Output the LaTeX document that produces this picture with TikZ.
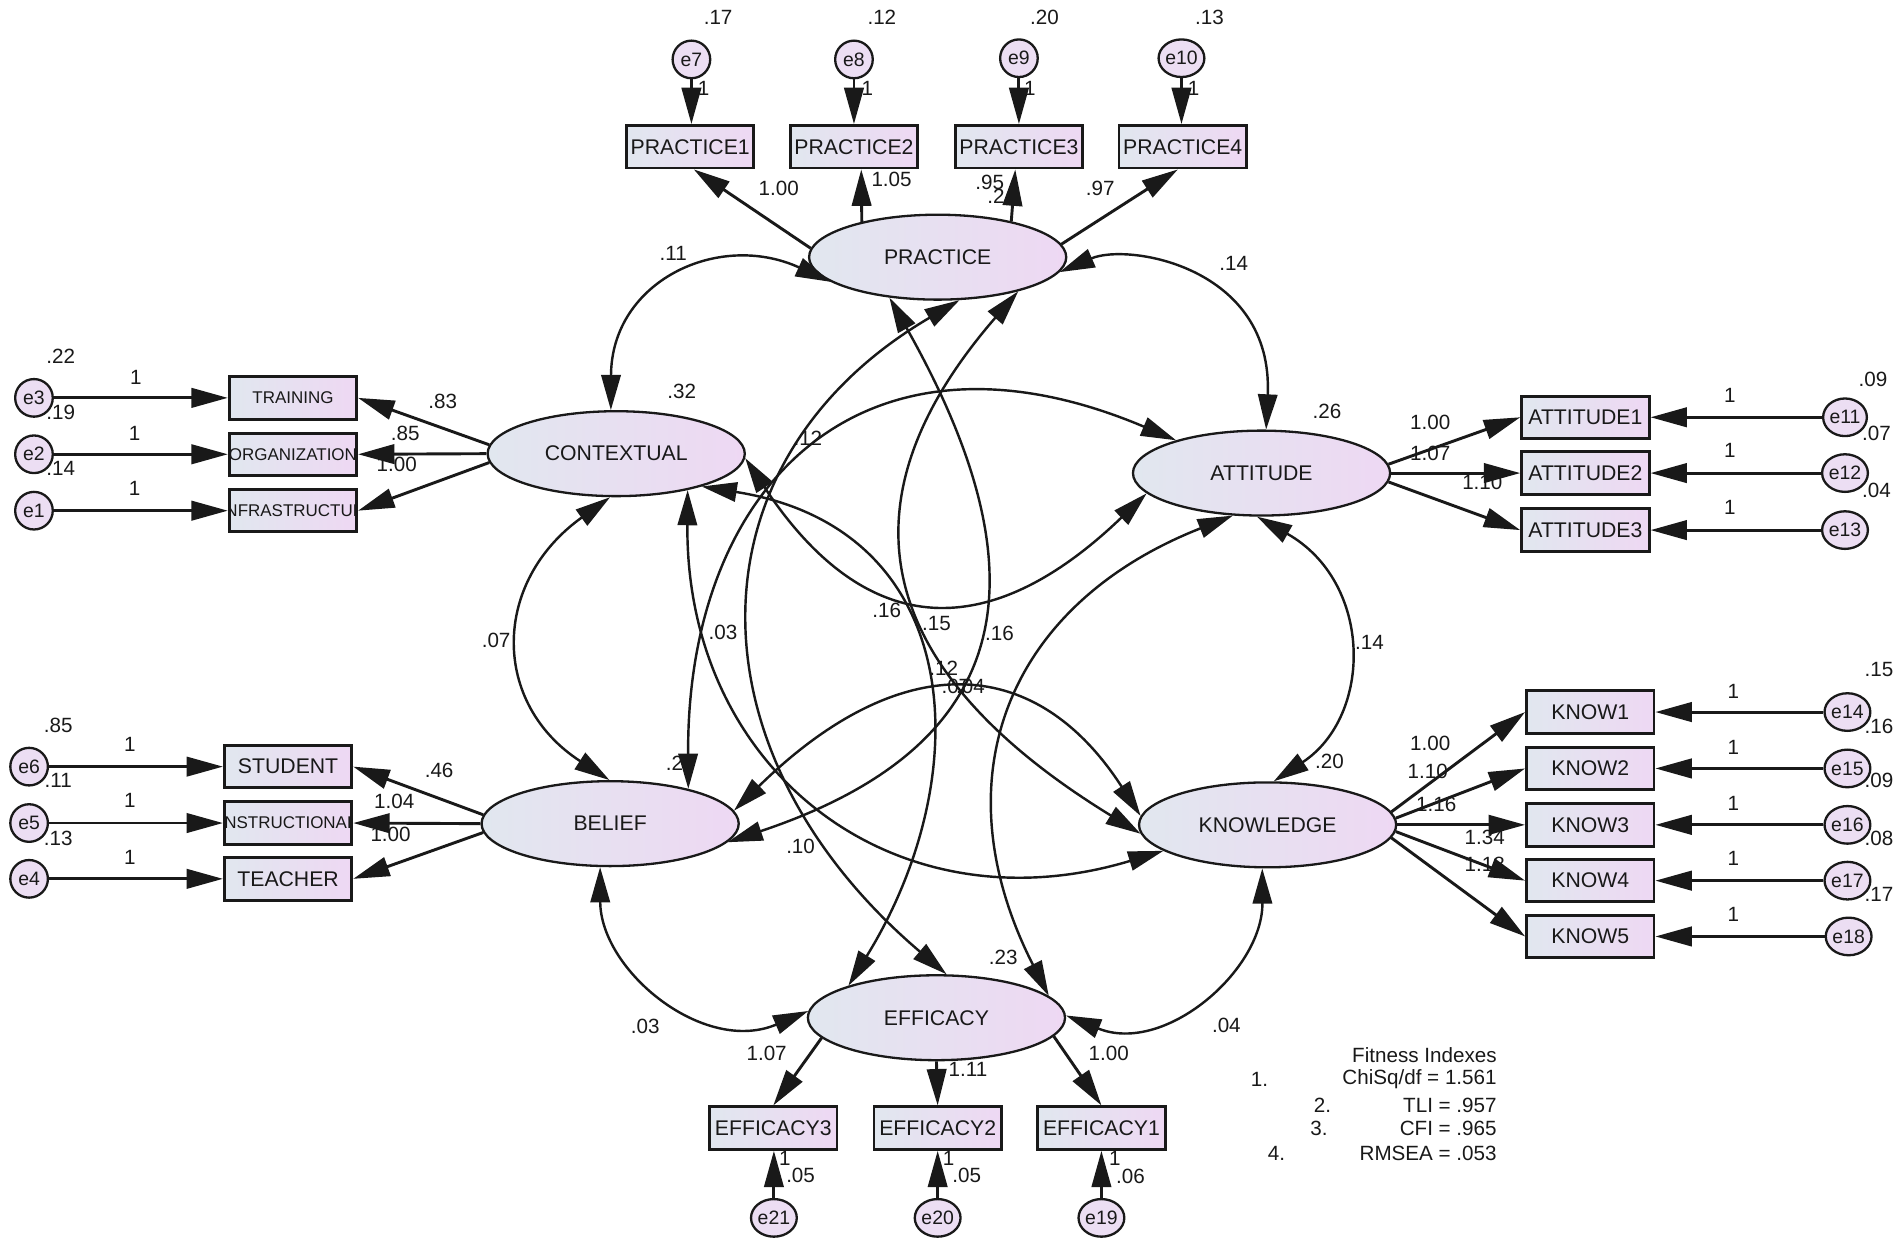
\documentclass[tikz,border=0pt]{standalone}
\usepackage{fontspec}
\setmainfont{Liberation Sans}
\usetikzlibrary{arrows.meta,shapes.geometric}
\definecolor{cl}{RGB}{225,231,239}
\definecolor{cr}{RGB}{238,216,243}
\definecolor{ec}{RGB}{236,222,243}
\definecolor{ink}{RGB}{25,25,25}
\newcounter{lbc}
\newcommand\putlbl[3]{\stepcounter{lbc}\node[lbl] (lb\arabic{lbc}) at (#1,#2) {#3};}
\begin{document}
\begin{tikzpicture}[x=1pt,y=-1pt,
  lat/.style={ellipse, draw=ink, line width=1.9pt, minimum width=212pt, minimum height=70pt,
    left color=cl, right color=cr, inner sep=0pt, text=ink, font=\fontsize{17.5}{20}\selectfont},
  obs/.style={rectangle, draw=ink, line width=2.4pt, minimum width=105pt, minimum height=35pt,
    left color=cl, right color=cr, inner sep=0pt, text=ink, font=\fontsize{17.5}{20}\selectfont},
  clipbox/.style={obs, path picture={\node[inner sep=0pt, text=ink, font=\fontsize{14}{16}\selectfont]
    at (path picture bounding box.center) {#1};}},
  err/.style={ellipse, draw=ink, line width=1.9pt, minimum width=31pt, minimum height=31pt,
    fill=ec, inner sep=0pt, text=ink, font=\fontsize{16}{18}\selectfont},
  lbl/.style={inner sep=0pt, text=ink, font=\fontsize{17}{20}\selectfont},
  ld/.style={draw=ink, line width=2.4pt, -{Triangle[length=30pt,width=16pt]}},
  cov/.style={draw=ink, line width=2pt, {Triangle[length=29pt,width=16pt]}-{Triangle[length=29pt,width=16pt]}},
]
\fill[white] (0,0) rectangle (1568,1028);
\useasboundingbox (0,0) rectangle (1568,1028);

% ---------------- latent variables
\node[lat] (prac) at (773,212) {PRACTICE};
\node[lat] (ctx)  at (508,374) {CONTEXTUAL};
\node[lat] (att)  at (1040,390) {ATTITUDE};
\node[lat] (bel)  at (503,679) {BELIEF};
\node[lat] (kno)  at (1045,680) {KNOWLEDGE};
\node[lat] (eff)  at (772,839) {EFFICACY};

% ---------------- indicators
\node[obs] (p1) at (569,121) {PRACTICE1};
\node[obs] (p2) at (704,121) {PRACTICE2};
\node[obs] (p3) at (840,121) {PRACTICE3};
\node[obs] (p4) at (975,121) {PRACTICE4};
\node[obs, font=\fontsize{14}{16}\selectfont] (tr) at (241.5,328) {TRAINING};
\node[clipbox=ORGANIZATION] (org) at (241.5,374.5) {};
\node[clipbox=INFRASTRUCTUR] (inf) at (241.5,421) {};
\node[obs] (stu) at (237.5,632) {STUDENT};
\node[clipbox=INSTRUCTIONAL] (ins) at (237.5,678.5) {};
\node[obs] (tea) at (237.5,724.5) {TEACHER};
\node[obs] (a1) at (1307,344) {ATTITUDE1};
\node[obs] (a2) at (1307,390) {ATTITUDE2};
\node[obs] (a3) at (1307,437) {ATTITUDE3};
\node[obs] (k1) at (1311,587) {KNOW1};
\node[obs] (k2) at (1311,633.5) {KNOW2};
\node[obs] (k3) at (1311,680) {KNOW3};
\node[obs] (k4) at (1311,726) {KNOW4};
\node[obs] (k5) at (1311,772) {KNOW5};
\node[obs] (ef3) at (637.5,930) {EFFICACY3};
\node[obs] (ef2) at (773,930) {EFFICACY2};
\node[obs] (ef1) at (908,930) {EFFICACY1};

% ---------------- errors
\node[err] (e7) at (570,49) {e7};
\node[err] (e8) at (704,49) {e8};
\node[err] (e9) at (840,48) {e9};
\node[err] (e10) at (974,48) {e10};
\node[err] (e3) at (28,328) {e3};
\node[err] (e2) at (28,374.5) {e2};
\node[err] (e1) at (28,421) {e1};
\node[err] (e6) at (24,632) {e6};
\node[err] (e5) at (24,678.5) {e5};
\node[err] (e4) at (24,724.5) {e4};
\node[err] (e11) at (1521,344) {e11};
\node[err] (e12) at (1521,390) {e12};
\node[err] (e13) at (1521,437) {e13};
\node[err] (e14) at (1523,587) {e14};
\node[err] (e15) at (1523,633.5) {e15};
\node[err] (e16) at (1523,680) {e16};
\node[err] (e17) at (1523,726) {e17};
\node[err] (e18) at (1524,772) {e18};
\node[err] (e21) at (638,1004) {e21};
\node[err] (e20) at (773,1004) {e20};
\node[err] (e19) at (908,1004) {e19};

% ---------------- error arrows
\foreach \e/\b in {e7/p1,e8/p2,e9/p3,e10/p4}{\draw[ld] (\e.south) -- (\e.south |- \b.north);}
\foreach \e/\b in {e3/tr,e2/org,e1/inf,e6/stu,e5/ins,e4/tea}{\draw[ld] (\e.east) -- (\b.west);}
\foreach \e/\b in {e11/a1,e12/a2,e13/a3,e14/k1,e15/k2,e16/k3,e17/k4,e18/k5}{\draw[ld] (\e.west) -- (\b.east);}
\foreach \e/\b in {e21/ef3,e20/ef2,e19/ef1}{\draw[ld] (\e.north) -- (\e.north |- \b.south);}

% ---------------- loadings
\draw[ld] (prac.176) -- ([xshift=3pt]p1.south);
\draw[ld] (prac.155) -- ([xshift=6pt]p2.south);
\draw[ld] (prac.26) -- ([xshift=-3pt]p3.south);
\draw[ld] (prac.6) -- ([xshift=-4pt]p4.south);
\draw[ld] (ctx.176) -- (tr.east);
\draw[ld] (ctx.180) -- (org.east);
\draw[ld] (ctx.184) -- (inf.east);
\draw[ld] (bel.176) -- (stu.east);
\draw[ld] (bel.180) -- (ins.east);
\draw[ld] (bel.184) -- (tea.east);
\draw[ld] (att.4) -- (a1.west);
\draw[ld] (att.0) -- (a2.west);
\draw[ld] (att.356) -- (a3.west);
\draw[ld] (kno.6) -- (k1.west);
\draw[ld] (kno.3) -- (k2.west);
\draw[ld] (kno.0) -- (k3.west);
\draw[ld] (kno.357) -- (k4.west);
\draw[ld] (kno.354) -- (k5.west);
\draw[ld] (eff.190) -- (ef3.north);
\draw[ld] (eff.south) -- (ef2.north);
\draw[ld] (eff.351) -- (ef1.north);

% ---------------- covariances (outer ring)
\draw[cov] (ctx.97) .. controls (504,232) and (592,190) .. (prac.193);
\draw[cov] (prac.353) .. controls (930,200) and (1050,220) .. (att.84);
\draw[cov] (ctx.262) .. controls (405,480) and (405,580) .. (bel.91);
\draw[cov] (att.264) .. controls (1132,480) and (1132,590) .. (kno.82);
\draw[cov] (bel.257) .. controls (495,800) and (580,870) .. (eff.177);
\draw[cov] (kno.263) .. controls (1041,800) and (960,870) .. (eff.1);
% ---------------- covariances (inner)
\draw[cov] (prac.220) .. controls (860,470) and (843,613) .. (bel.351);
\draw[cov] (prac.337) .. controls (673,432) and (744,567) .. (kno.184);
\draw[cov] (prac.297) .. controls (565,380) and (565,620) .. (eff.77);
\draw[cov] (ctx.358) .. controls (715,530) and (817,530) .. (att.190);
\draw[cov] (ctx.333) .. controls (565,637) and (739,768) .. (kno.194);
\draw[cov] (ctx.339) .. controls (798,436) and (806,640) .. (eff.160);
\draw[cov] (bel.24) .. controls (566,399) and (712,254) .. (att.159);
\draw[cov] (att.236) .. controls (831,498) and (773,641) .. (eff.11);
\draw[cov] (bel.6) .. controls (740,536) and (852,536) .. (kno.176);

% ---------------- labels
\putlbl{592}{14}{.17}\putlbl{727}{14}{.12}\putlbl{861}{14}{.20}\putlbl{997}{14}{.13}
\putlbl{580}{73}{1}\putlbl{715}{73}{1}\putlbl{849}{73}{1}\putlbl{984}{73}{1}
\putlbl{642}{155}{1.00}\putlbl{735}{148}{1.05}\putlbl{816}{150}{.95}\putlbl{821}{162}{.2}\putlbl{907}{155}{.97}
\putlbl{555}{209}{.11}\putlbl{1017}{217}{.14}
\putlbl{50}{294}{.22}\putlbl{112}{311}{1}\putlbl{50}{340}{.19}\putlbl{111}{357}{1}\putlbl{50}{386}{.14}\putlbl{111}{403}{1}
\putlbl{365}{331}{.83}\putlbl{334}{357}{.85}\putlbl{327}{383}{1.00}
\putlbl{562}{323}{.32}
\putlbl{409}{528}{.07}\putlbl{596}{521}{.03}\putlbl{666}{361}{.12}
\putlbl{731}{503}{.16}\putlbl{772}{514}{.15}\putlbl{824}{522}{.16}
\putlbl{778}{551}{.12}\putlbl{788}{566}{.07}\putlbl{800}{566}{.04}
\putlbl{556}{629}{.2}\putlbl{660}{698}{.10}
\putlbl{48}{598}{.85}\putlbl{107}{614}{1}\putlbl{48}{643}{.11}\putlbl{107}{660}{1}\putlbl{48}{691}{.13}\putlbl{107}{707}{1}
\putlbl{362}{635}{.46}\putlbl{325}{661}{1.04}\putlbl{322}{688}{1.00}
\putlbl{532}{846}{.03}\putlbl{632}{868}{1.07}\putlbl{647}{955}{1}\putlbl{660}{969}{.05}
\putlbl{827}{789}{.23}\putlbl{798}{882}{1.11}\putlbl{914}{868}{1.00}\putlbl{1011}{845}{.04}
\putlbl{782}{955}{1}\putlbl{797}{969}{.05}\putlbl{919}{955}{1}\putlbl{932}{970}{.06}
\putlbl{1544}{313}{.09}\putlbl{1426}{326}{1}\putlbl{1547}{357}{.07}\putlbl{1426}{371}{1}\putlbl{1547}{404}{.04}\putlbl{1426}{418}{1}
\putlbl{1094}{339}{.26}\putlbl{1179}{348}{1.00}\putlbl{1179}{374}{1.07}\putlbl{1222}{398}{1.10}
\putlbl{1129}{530}{.14}\putlbl{1096}{628}{.20}
\putlbl{1549}{552}{.15}\putlbl{1549}{599}{.16}\putlbl{1549}{643}{.09}\putlbl{1549}{691}{.08}\putlbl{1549}{737}{.17}
\putlbl{1429}{570}{1}\putlbl{1429}{616}{1}\putlbl{1429}{662}{1}\putlbl{1429}{708}{1}\putlbl{1429}{754}{1}
\putlbl{1179}{613}{1.00}\putlbl{1177}{636}{1.10}\putlbl{1184}{663}{1.16}\putlbl{1224}{690}{1.34}\putlbl{1224}{713}{1.18}

% ---------------- fit indexes
\node[lbl, anchor=east] (fit0) at (1234,870) {Fitness Indexes};
\node[lbl, anchor=east] (fit1) at (1234,890) {ChiSq/df = 1.561};
\node[lbl, anchor=east] (fit2) at (1234,911) {TLI = .957};
\node[lbl, anchor=east] (fit3) at (1234,930) {CFI = .965};
\node[lbl, anchor=east] (fit4) at (1234,951) {RMSEA = .053};
\node[lbl, anchor=west] (n1) at (1031,890) {1.};
\node[lbl, anchor=west] (n2) at (1083,911) {2.};
\node[lbl, anchor=west] (n3) at (1080,930) {3.};
\node[lbl, anchor=west] (n4) at (1045,951) {4.};
\end{tikzpicture}
\end{document}
